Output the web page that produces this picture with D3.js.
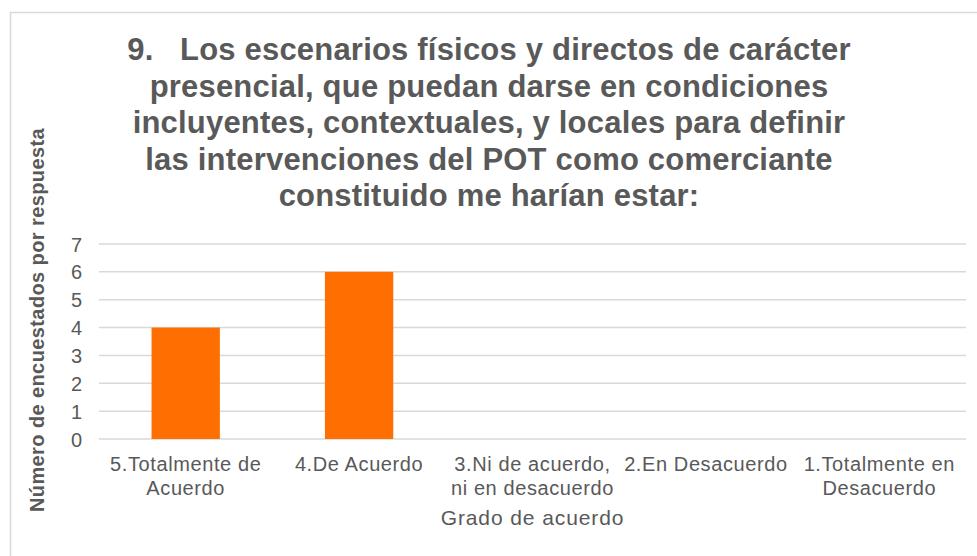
<!DOCTYPE html>
<html>
<head>
<meta charset="utf-8">
<script src="https://cdn.jsdelivr.net/npm/d3@7"></script>
<style>
  body { margin: 0; background: #fff; }
  text { font-family: "Liberation Sans", Arial, sans-serif; fill: #595959; }
</style>
</head>
<body>
<div id="chart"></div>
<script>
const categories = ['5.Totalmente de Acuerdo', '4.De Acuerdo', '3.Ni de acuerdo, ni en desacuerdo', '2.En Desacuerdo', '1.Totalmente en Desacuerdo'];
const categoryLines = [['5.Totalmente de', 'Acuerdo'], ['4.De Acuerdo'], ['3.Ni de acuerdo,', 'ni en desacuerdo'], ['2.En Desacuerdo'], ['1.Totalmente en', 'Desacuerdo']];
const values = [4, 6, 0, 0, 0];
const yTicks = [0, 1, 2, 3, 4, 5, 6, 7];
const titleLines = [
  '9.   Los escenarios físicos y directos de carácter',
  'presencial, que puedan darse en condiciones',
  'incluyentes, contextuales, y locales para definir',
  'las intervenciones del POT como comerciante',
  'constituido me harían estar:'
];
const xTitle = 'Grado de acuerdo';
const yTitle = 'Número de encuestados por respuesta';

const svgWidth = 977;
const svgHeight = 556;
const margin = { top: 244, right: 11, bottom: 117, left: 99 };
const chartWidth = svgWidth - margin.left - margin.right;
const chartHeight = svgHeight - margin.top - margin.bottom;

const svg = d3.select('#chart').append('svg').attr('width', svgWidth).attr('height', svgHeight);

// borde del área del gráfico
svg.append('rect')
  .attr('x', 10.5).attr('y', 12.5)
  .attr('width', 1000).attr('height', 600)
  .attr('fill', 'none').attr('stroke', '#d9d9d9').attr('stroke-width', 1.5);

const chart = svg.append('g').attr('transform', `translate(${margin.left},${margin.top})`);

const xScale = d3.scaleBand().range([0, chartWidth]).domain(categories).paddingInner(0.606).paddingOuter(0.303);
const yScale = d3.scaleLinear().range([chartHeight, 0]).domain([0, 7]);

// líneas de cuadrícula
chart.selectAll('.grid').data(yTicks).enter().append('line')
  .attr('class', 'grid')
  .attr('x1', 0).attr('x2', chartWidth)
  .attr('y1', d => yScale(d)).attr('y2', d => yScale(d))
  .attr('stroke', '#d9d9d9').attr('stroke-width', 1.5);

chart.selectAll('.bar').data(values).enter().append('rect')
  .attr('class', 'bar')
  .attr('x', (d, i) => xScale(categories[i]))
  .attr('y', d => yScale(d))
  .attr('width', xScale.bandwidth())
  .attr('height', d => chartHeight - yScale(d))
  .attr('fill', '#ff6e00');

// eje y
const yAxis = chart.append('g').call(d3.axisLeft(yScale).tickValues(yTicks).tickFormat(d3.format('d')).tickSize(0).tickPadding(17));
yAxis.select('.domain').remove();
yAxis.selectAll('text').style('font-size', '20px').attr('fill', '#595959').attr('dy', '0.35em');

// eje x con etiquetas en dos líneas
const xAxis = chart.append('g').attr('transform', `translate(0,${chartHeight})`)
  .call(d3.axisBottom(xScale).tickSize(0));
xAxis.select('.domain').remove();
xAxis.selectAll('text').each(function(d, i) {
  const t = d3.select(this).text(null).attr('y', 0).attr('dy', null)
    .style('font-size', '20px').style('letter-spacing', '0.6px').attr('fill', '#595959');
  categoryLines[i].forEach((line, j) => {
    t.append('tspan').attr('x', 0).attr('y', 32 + j * 23.5).text(line);
  });
});

// título
svg.append('text')
  .attr('class', 'chart-title')
  .attr('text-anchor', 'middle')
  .attr('xml:space', 'preserve')
  .style('white-space', 'pre')
  .style('font-size', '31px').style('font-weight', 'bold').style('letter-spacing', '0.2px')
  .selectAll('tspan').data(titleLines).enter().append('tspan')
  .attr('x', 489)
  .attr('y', (d, i) => 60 + i * 36.5)
  .text(d => d);

// títulos de ejes
svg.append('text')
  .attr('x', margin.left + chartWidth / 2)
  .attr('y', 525)
  .attr('text-anchor', 'middle')
  .style('font-size', '21px').style('letter-spacing', '0.9px')
  .text(xTitle);

svg.append('text')
  .attr('transform', 'translate(44,320) rotate(-90)')
  .attr('text-anchor', 'middle')
  .style('font-size', '20px').style('font-weight', 'bold').style('letter-spacing', '0.4px')
  .text(yTitle);
</script>
</body>
</html>
